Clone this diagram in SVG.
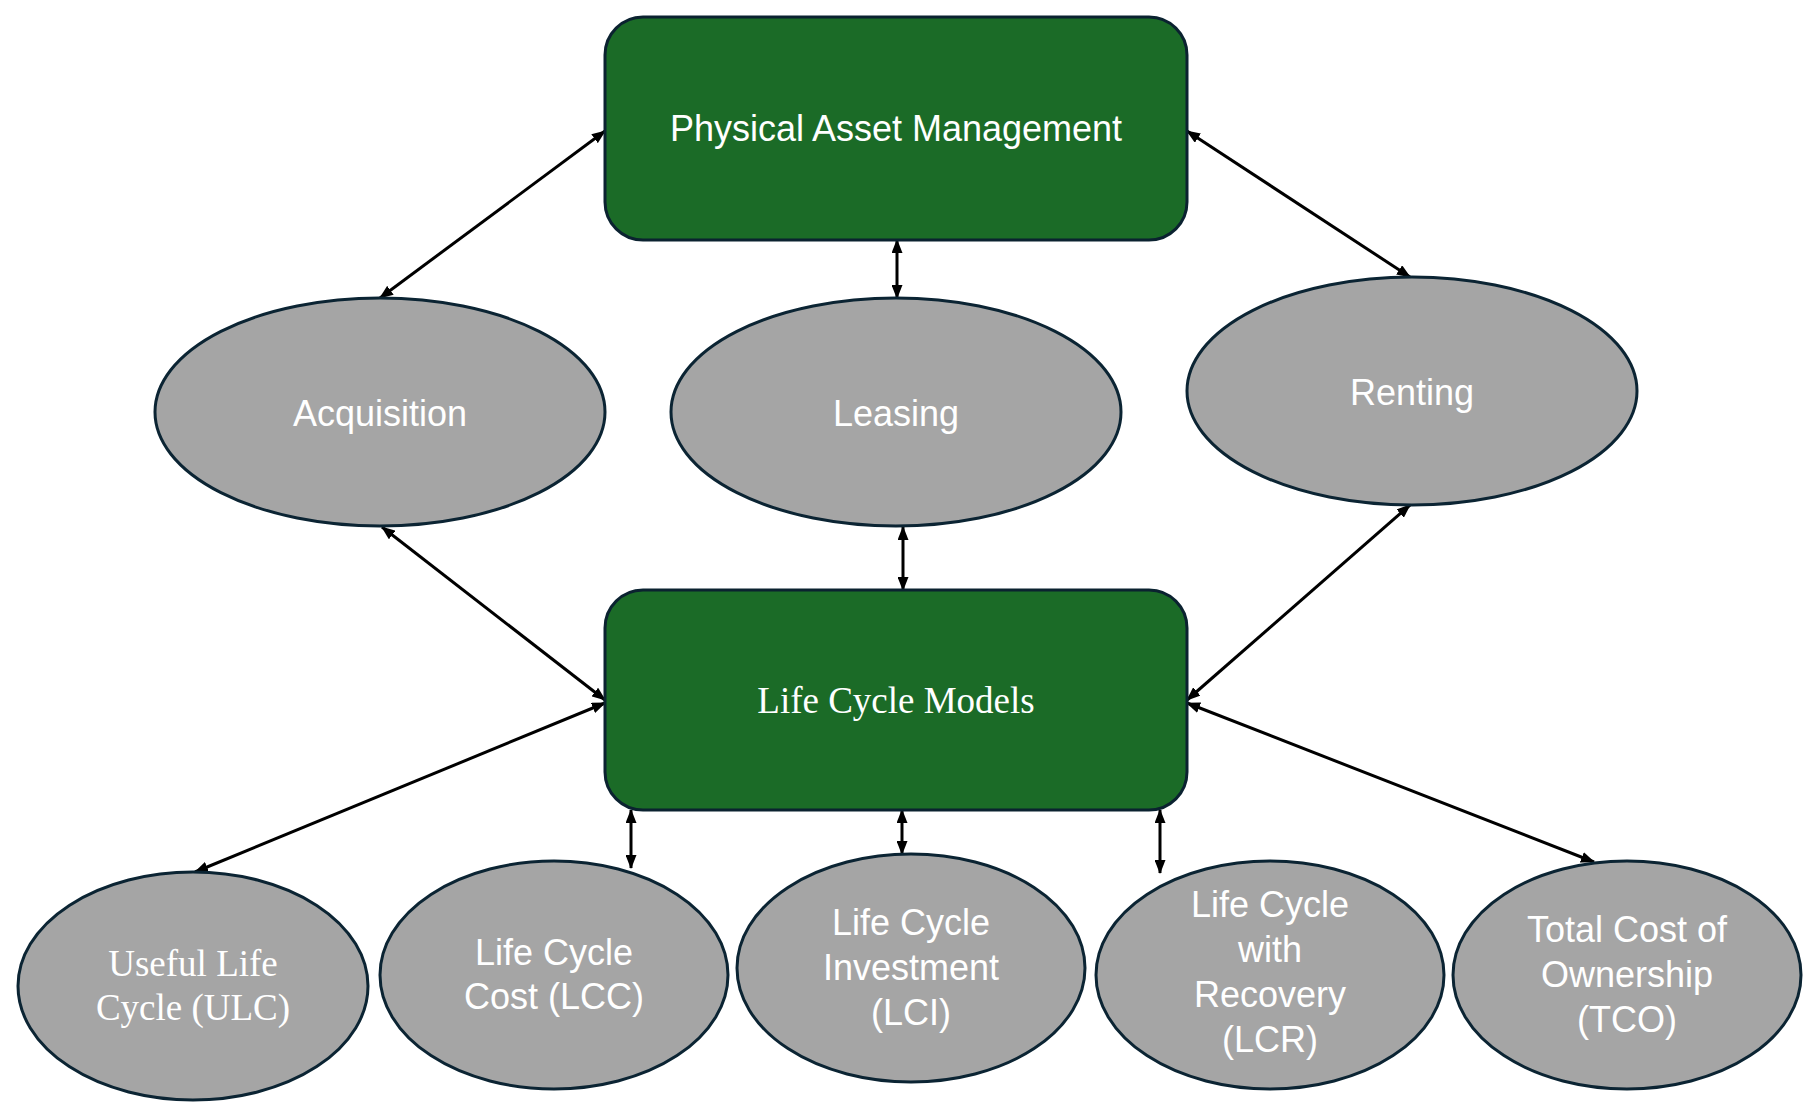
<svg xmlns="http://www.w3.org/2000/svg" width="1820" height="1120" viewBox="0 0 1820 1120">
<defs>
<marker id="ah" markerUnits="userSpaceOnUse" markerWidth="14" markerHeight="11" refX="13" refY="5.5" orient="auto-start-reverse" viewBox="0 0 14 11">
<path d="M0,0 L14,5.5 L0,11 z" fill="#000"/>
</marker>
<style>
.box{fill:#1b6b27;stroke:#0b2230;stroke-width:3}
.ell{fill:#a5a5a5;stroke:#0b2433;stroke-width:3}
.sans{font-family:"Liberation Sans",Arial,sans-serif;font-size:36px;fill:#fff;text-anchor:middle}
.serif{font-family:"Liberation Serif","Times New Roman",serif;font-size:37px;fill:#fff;text-anchor:middle}
.con line{stroke:#000;stroke-width:3;marker-start:url(#ah);marker-end:url(#ah)}
</style>
</defs>
<rect width="1820" height="1120" fill="#fff"/>
<g id="connectors" class="con">
<line x1="380" y1="298" x2="605" y2="131"/>
<line x1="897" y1="240" x2="897" y2="298"/>
<line x1="1187" y1="131" x2="1410" y2="277"/>
<line x1="382" y1="527" x2="605" y2="700"/>
<line x1="903" y1="527" x2="903" y2="590"/>
<line x1="1410" y1="505" x2="1187" y2="700"/>
<line x1="605" y1="703" x2="195" y2="872"/>
<line x1="631" y1="810" x2="631" y2="868"/>
<line x1="902" y1="810" x2="902" y2="854"/>
<line x1="1160" y1="810" x2="1160" y2="873"/>
<line x1="1187" y1="703" x2="1594" y2="862"/>
</g>
<g id="pam"><rect class="box" x="605" y="17" width="582" height="223" rx="38"/><text class="sans" x="896" y="141">Physical Asset Management</text></g>
<g id="acquisition"><ellipse class="ell" cx="380" cy="412" rx="225" ry="114"/><text class="sans" x="380" y="426">Acquisition</text></g>
<g id="leasing"><ellipse class="ell" cx="896" cy="412" rx="225" ry="114"/><text class="sans" x="896" y="426">Leasing</text></g>
<g id="renting"><ellipse class="ell" cx="1412" cy="391" rx="225" ry="114"/><text class="sans" x="1412" y="405">Renting</text></g>
<g id="lcm"><rect class="box" x="605" y="590" width="582" height="220" rx="38"/><text class="serif" x="896" y="713">Life Cycle Models</text></g>
<g id="ulc"><ellipse class="ell" cx="193" cy="986" rx="175" ry="114"/><text class="serif" x="193" y="976">Useful Life</text><text class="serif" x="193" y="1020">Cycle (ULC)</text></g>
<g id="lcc"><ellipse class="ell" cx="554" cy="975" rx="174" ry="114"/><text class="sans" x="554" y="965">Life Cycle</text><text class="sans" x="554" y="1009">Cost (LCC)</text></g>
<g id="lci"><ellipse class="ell" cx="911" cy="968" rx="174" ry="114"/><text class="sans" x="911" y="935">Life Cycle</text><text class="sans" x="911" y="980">Investment</text><text class="sans" x="911" y="1025">(LCI)</text></g>
<g id="lcr"><ellipse class="ell" cx="1270" cy="975" rx="174" ry="114"/><text class="sans" x="1270" y="917">Life Cycle</text><text class="sans" x="1270" y="962">with</text><text class="sans" x="1270" y="1007">Recovery</text><text class="sans" x="1270" y="1052">(LCR)</text></g>
<g id="tco"><ellipse class="ell" cx="1627" cy="975" rx="174" ry="114"/><text class="sans" x="1627" y="942">Total Cost of</text><text class="sans" x="1627" y="987">Ownership</text><text class="sans" x="1627" y="1032">(TCO)</text></g>
</svg>
